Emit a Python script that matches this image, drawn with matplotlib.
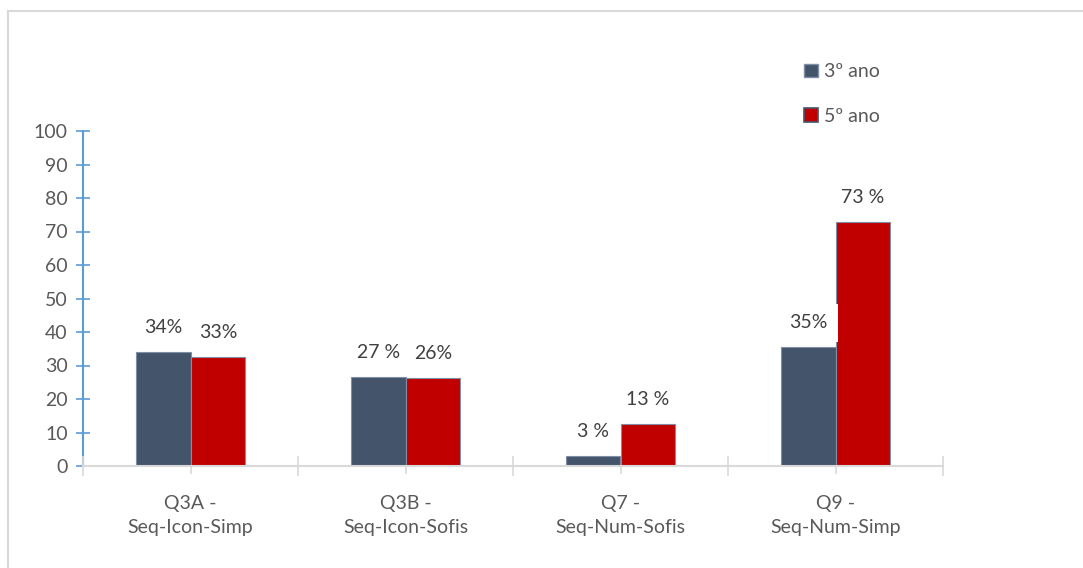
import matplotlib.pyplot as plt
from matplotlib.lines import Line2D
import numpy as np

plt.rcParams['font.family'] = ['Lato', 'DejaVu Sans']

categories = ["Q3A -\nSeq-Icon-Simp", "Q3B -\nSeq-Icon-Sofis",
              "Q7 -\nSeq-Num-Sofis", "Q9 -\nSeq-Num-Simp"]
ano3 = [34, 26.6, 3, 35.5]
ano5 = [32.5, 26.3, 12.5, 72.8]
labels3 = ["34%", "27 %", "3 %", "35%"]
labels5 = ["33%", "26%", "13 %", "73 %"]
series_names = ["3º ano", "5º ano"]

BLUE = "#44546A"
RED = "#C00000"
EDGE = "#7F8FA6"
TXT = "#404040"
GRID = "#D9D9D9"
FS = 14

fig = plt.figure(figsize=(10.83, 5.68), dpi=100)
ax = fig.add_axes([83/1083, 1-466/568, 860/1083, 335/568])

x = np.arange(len(categories))
w = 0.255
b3 = ax.bar(x - w/2, ano3, w, color=BLUE, edgecolor=EDGE, linewidth=0.8, label=series_names[0])
b5 = ax.bar(x + w/2, ano5, w, color=RED, edgecolor=EDGE, linewidth=0.8, label=series_names[1])

for bars, labs in ((b3, labels3), (b5, labels5)):
	for rect, lab in zip(bars, labs):
		bbox = None
		if lab == "35%":
			bbox = dict(facecolor="white", edgecolor="none", pad=7.5)
		ax.annotate(lab, (rect.get_x() + rect.get_width()/2, rect.get_height()),
			xytext=(0, 17.5), textcoords="offset points", ha="center", va="center",
			fontsize=FS, color=TXT, bbox=bbox, zorder=5)

ax.set_xlim(-0.5, len(categories) - 0.5)
ax.set_ylim(0, 100)
ax.set_yticks(np.arange(0, 101, 10))
ax.tick_params(axis="y", direction="inout", length=10, width=1.2, color="#5B9BD5",
	labelsize=FS, labelcolor="#595959", pad=6)
ax.set_xticks(x)
ax.set_xticklabels(categories, fontsize=FS, color="#595959", linespacing=1.5)
ax.tick_params(axis="x", length=6, width=1.2, color=GRID, pad=15)
ax.set_xticks(np.arange(-0.5, len(categories), 1), minor=True)
ax.tick_params(axis="x", which="minor", direction="inout", length=14, width=1.2, color=GRID)

for s in ("top", "right"):
	ax.spines[s].set_visible(False)
ax.spines["left"].set_color("#5B9BD5")
ax.spines["left"].set_linewidth(1.5)
ax.spines["bottom"].set_color(GRID)
ax.spines["bottom"].set_linewidth(1.5)
ax.spines["left"].set_zorder(0)

handles = [plt.Rectangle((0, 0), 1, 1, facecolor=BLUE, edgecolor=EDGE),
	plt.Rectangle((0, 0), 1, 1, facecolor=RED, edgecolor=BLUE, linewidth=1.2)]
leg = fig.legend(handles, series_names, loc="upper left", bbox_to_anchor=(787/1083, 1-46/568),
	frameon=False, fontsize=FS, labelcolor="#595959", handlelength=0.7, handleheight=0.7,
	handletextpad=0.3, labelspacing=1.4)

# outer frame
fig.add_artist(Line2D([7.5/1083, 7.5/1083], [0, 1-11/568], color=GRID, linewidth=1.5))
fig.add_artist(Line2D([7.5/1083, 1], [1-11/568, 1-11/568], color=GRID, linewidth=1.5))

fig.savefig("out.png", dpi=100)
